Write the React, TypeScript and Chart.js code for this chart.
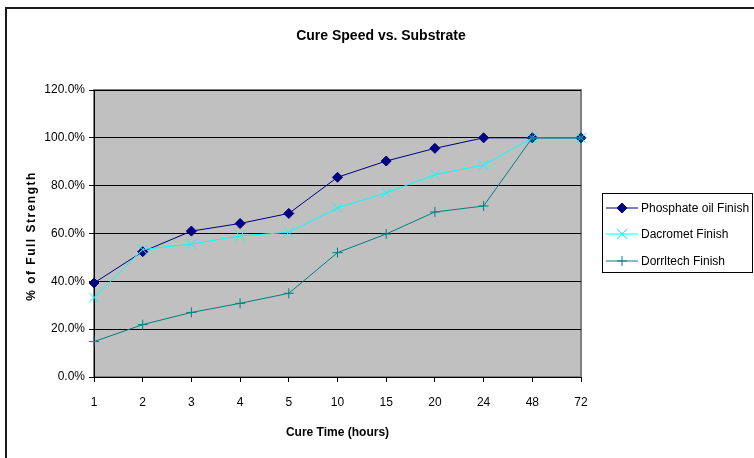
import React, { useEffect, useRef } from "react";
import { Chart, registerables } from "chart.js";

Chart.register(...registerables);

const categories = ["1", "2", "3", "4", "5", "10", "15", "20", "24", "48", "72"];
const phosphate = [39.3, 52.4, 61.0, 64.2, 68.4, 83.5, 90.3, 95.6, 100, 100, 100];
const dacromet = [33.2, 53.3, 55.6, 59.0, 60.5, 70.7, 77.0, 84.6, 88.6, 100, 100];
const dorrltech = [14.8, 21.9, 27.0, 30.8, 35.0, 52.0, 59.8, 69.0, 71.5, 100, 100];
const seriesNames = ["Phosphate oil Finish", "Dacromet Finish", "Dorrltech Finish"];
const titleText = "Cure Speed vs. Substrate";
const xTitle = "Cure Time (hours)";
const yTitle = "% of Full Strength";

const FONT = "'Liberation Sans', Arial, sans-serif";

function drawMarker(ctx: CanvasRenderingContext2D, style: string, color: string, x: number, y: number) {
  ctx.save();
  ctx.fillStyle = color;
  ctx.strokeStyle = color;
  ctx.lineWidth = 1;
  ctx.beginPath();
  if (style === "rectRot") {
    ctx.moveTo(x, y - 5);
    ctx.lineTo(x + 5, y);
    ctx.lineTo(x, y + 5);
    ctx.lineTo(x - 5, y);
    ctx.closePath();
    ctx.fill();
    ctx.stroke();
  } else if (style === "crossRot") {
    const d = 5;
    ctx.moveTo(x - d, y - d);
    ctx.lineTo(x + d, y + d);
    ctx.moveTo(x + d, y - d);
    ctx.lineTo(x - d, y + d);
    ctx.stroke();
  } else {
    ctx.moveTo(x - 5, y);
    ctx.lineTo(x + 5, y);
    ctx.moveTo(x, y - 5);
    ctx.lineTo(x, y + 5);
    ctx.stroke();
  }
  ctx.restore();
}

export default function App() {
  const ref = useRef<HTMLCanvasElement | null>(null);
  useEffect(() => {
    if (!ref.current) return;
    const decor = {
      id: "decor",
      beforeDraw(chart: any) {
        const { ctx, chartArea: a } = chart;
        ctx.save();
        ctx.fillStyle = "#ffffff";
        ctx.fillRect(0, 0, chart.width, chart.height);
        ctx.strokeStyle = "#1a1a1a";
        ctx.lineWidth = 2;
        ctx.beginPath();
        ctx.moveTo(6, 458);
        ctx.lineTo(6, 8);
        ctx.lineTo(754, 8);
        ctx.stroke();
        ctx.fillStyle = "#c0c0c0";
        ctx.fillRect(a.left, a.top, a.right - a.left, a.bottom - a.top);
        ctx.strokeStyle = "#808080";
        ctx.lineWidth = 2;
        ctx.strokeRect(a.left, a.top, a.right - a.left, a.bottom - a.top);
        ctx.restore();
      },
      afterDraw(chart: any) {
        const { ctx, chartArea: a } = chart;
        ctx.save();
        ctx.fillStyle = "#000";
        ctx.textAlign = "center";
        ctx.textBaseline = "middle";
        ctx.font = `bold 14px ${FONT}`;
        ctx.fillText(titleText, 381, 36);
        ctx.font = `bold 12px ${FONT}`;
        ctx.fillText(xTitle, (a.left + a.right) / 2, 433);
        ctx.save();
        ctx.translate(32, 236);
        ctx.rotate(-Math.PI / 2);
        (ctx as any).letterSpacing = "1.5px";
        ctx.fillText(yTitle, 0, 0);
        ctx.restore();
        ctx.strokeStyle = "#000";
        ctx.lineWidth = 1;
        ctx.strokeRect(602.5, 193.5, 150, 79);
        const rows = [208, 234, 261];
        chart.data.datasets.forEach((ds: any, i: number) => {
          const y = rows[i];
          ctx.strokeStyle = ds.borderColor;
          ctx.lineWidth = 1;
          ctx.beginPath();
          ctx.moveTo(606, y);
          ctx.lineTo(638, y);
          ctx.stroke();
          drawMarker(ctx, ds.pointStyle, ds.borderColor, 622, y);
          ctx.fillStyle = "#000";
          ctx.textAlign = "left";
          ctx.font = `12px ${FONT}`;
          ctx.fillText(ds.label, 641, y + 1);
        });
        ctx.restore();
      },
    };

    const chart = new Chart(ref.current, {
      type: "line",
      data: {
        labels: categories,
        datasets: [
          {
            label: seriesNames[0],
            data: phosphate,
            order: 2,
            borderColor: "#000080",
            backgroundColor: "#000080",
            pointBackgroundColor: "#000080",
            pointBorderColor: "#000080",
            pointStyle: "rectRot",
            pointRadius: 5,
            pointBorderWidth: 1,
            borderWidth: 1,
            tension: 0,
          },
          {
            label: seriesNames[1],
            data: dacromet,
            order: 1,
            borderColor: "#00ffff",
            backgroundColor: "#00ffff",
            pointBackgroundColor: "#00ffff",
            pointBorderColor: "#00ffff",
            pointStyle: "crossRot",
            pointRadius: 7,
            pointBorderWidth: 1,
            borderWidth: 1,
            tension: 0,
          },
          {
            label: seriesNames[2],
            data: dorrltech,
            order: 0,
            borderColor: "#008080",
            backgroundColor: "#008080",
            pointBackgroundColor: "#008080",
            pointBorderColor: "#008080",
            pointStyle: "cross",
            pointRadius: 5,
            pointBorderWidth: 1,
            borderWidth: 1,
            tension: 0,
          },
        ],
      },
      options: {
        responsive: false,
        animation: false,
        devicePixelRatio: 1,
        layout: { padding: { left: 0, top: 90, right: 754 - 581, bottom: 0 } },
        plugins: { legend: { display: false }, title: { display: false }, tooltip: { enabled: false } },
        scales: {
          x: {
            offset: false,
            afterFit: (s: any) => { s.height = 458 - 377; },
            grid: { drawOnChartArea: false, drawTicks: true, tickLength: 5, color: "#000" },
            border: { color: "#000", width: 1 },
            ticks: { color: "#000", font: { family: FONT, size: 12 }, padding: 13, maxRotation: 0, autoSkip: false },
          },
          y: {
            min: 0,
            max: 120,
            afterFit: (s: any) => { s.width = 94; },
            grid: { color: "#000", tickLength: 5, drawTicks: true },
            border: { color: "#000", width: 1 },
            ticks: {
              stepSize: 20,
              color: "#000",
              font: { family: FONT, size: 12 },
              padding: 4,
              callback: (v: any) => Number(v).toFixed(1) + "%",
            },
          },
        },
      },
      plugins: [decor],
    });
    return () => chart.destroy();
  }, []);
  return (
    <div style={{ position: "fixed", left: 0, top: 0, width: 754, height: 458 }}>
      <canvas ref={ref} width={754} height={458} style={{ width: 754, height: 458 }} />
    </div>
  );
}
